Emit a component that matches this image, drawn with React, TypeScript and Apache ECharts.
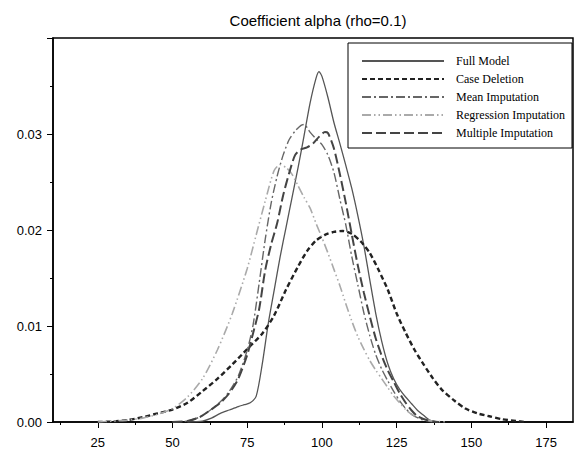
import React, { useEffect, useRef } from "react";
import * as echarts from "echarts";

const titleText = "Coefficient alpha (rho=0.1)";
const seriesNames = ["Full Model", "Case Deletion", "Mean Imputation", "Regression Imputation", "Multiple Imputation"];
const xMajorTicks = [25, 50, 75, 100, 125, 150, 175];
const xMinorTicks = [12.5, 37.5, 62.5, 87.5, 112.5, 137.5, 162.5];

const fullX = [55, 60, 63, 66, 69, 72, 74, 76, 78, 80, 82, 84, 86, 88, 90, 92, 94, 96, 98, 99, 100, 102, 104, 106, 108, 110, 112, 114, 116, 118, 120, 122, 124, 126, 128, 130, 132, 134, 136, 138];
const fullY = [0, 0.0001, 0.0004, 0.0009, 0.00125, 0.0016, 0.0018, 0.002, 0.0027, 0.006, 0.0102, 0.0137, 0.0172, 0.0203, 0.0234, 0.0265, 0.0298, 0.0332, 0.0358, 0.0365, 0.036, 0.0338, 0.0312, 0.029, 0.0267, 0.0243, 0.0215, 0.0184, 0.0148, 0.0113, 0.0084, 0.0061, 0.0045, 0.0034, 0.0026, 0.0019, 0.0012, 0.0007, 0.0002, 0];

const caseX = [25, 30, 35, 40, 45, 50, 55, 60, 65, 70, 75, 80, 84, 88, 92, 95, 98, 101, 104, 107, 110, 113, 116, 119, 122, 125, 128, 131, 134, 137, 140, 144, 148, 152, 156, 160, 165, 168];
const caseY = [0, 0.00005, 0.0002, 0.0005, 0.0009, 0.0013, 0.002, 0.0032, 0.0045, 0.006, 0.0076, 0.0092, 0.0111, 0.0138, 0.0162, 0.0178, 0.0189, 0.0195, 0.0198, 0.0199, 0.0196, 0.0188, 0.0176, 0.0158, 0.0138, 0.0113, 0.0093, 0.0075, 0.006, 0.0046, 0.0034, 0.0023, 0.0014, 0.0009, 0.0006, 0.0003, 0.0001, 0];

const meanX = [50, 55, 59, 62, 66, 69, 72, 75, 77, 79, 81, 83, 85, 87, 89, 91, 93, 94, 96, 98, 100, 102, 104, 106, 108, 110, 112, 114, 116, 118, 120, 122, 124, 126, 128, 130, 133, 137];
const meanY = [0, 0.0001, 0.0005, 0.0011, 0.0021, 0.0032, 0.0048, 0.0075, 0.0102, 0.0145, 0.019, 0.0228, 0.0256, 0.0278, 0.0294, 0.0303, 0.0309, 0.031, 0.0302, 0.0295, 0.0289, 0.0278, 0.026, 0.0232, 0.0205, 0.0172, 0.0143, 0.0114, 0.009, 0.007, 0.0055, 0.0043, 0.0032, 0.0022, 0.0014, 0.0008, 0.0003, 0];

const regX = [25, 30, 35, 40, 45, 50, 55, 60, 65, 70, 75, 78, 81, 84, 86, 88, 90, 92, 94, 96, 98, 100, 102, 104, 106, 108, 110, 112, 114, 116, 118, 120, 122, 124, 126, 128, 130, 133, 137, 142];
const regY = [0, 0.0001, 0.0002, 0.0004, 0.0008, 0.0014, 0.0026, 0.0045, 0.0075, 0.0113, 0.016, 0.0195, 0.023, 0.0262, 0.0268, 0.0265, 0.0258, 0.0246, 0.0234, 0.0223, 0.0207, 0.0192, 0.0176, 0.0159, 0.0142, 0.0123, 0.0105, 0.0089, 0.0076, 0.0064, 0.0054, 0.0045, 0.0036, 0.0027, 0.002, 0.0013, 0.0008, 0.0004, 0.0001, 0];

const multiX = [50, 55, 59, 62, 66, 69, 72, 75, 77, 79, 81, 83, 85, 87, 89, 91, 93, 95, 97, 99, 101, 102, 104, 106, 108, 110, 112, 114, 116, 118, 120, 122, 124, 126, 128, 130, 132, 135, 139];
const multiY = [0, 0.0001, 0.0005, 0.0011, 0.002, 0.003, 0.0045, 0.007, 0.0093, 0.0118, 0.0158, 0.0185, 0.0207, 0.0236, 0.0259, 0.0278, 0.0284, 0.0286, 0.029, 0.0297, 0.0302, 0.0301, 0.0285, 0.0258, 0.0228, 0.0195, 0.0163, 0.0135, 0.011, 0.0087, 0.0069, 0.0054, 0.0042, 0.003, 0.002, 0.0012, 0.0006, 0.0002, 0];

const pairs = (xs: number[], ys: number[]) => xs.map((x, i) => [x, ys[i]]);

export default function App() {
  const ref = useRef<HTMLDivElement>(null);
  useEffect(() => {
    if (!ref.current) return;
    const chart = echarts.init(ref.current, null, { renderer: "svg" });
    const styles = [
      { color: "#555", width: 1.3, type: "solid" as any, data: pairs(fullX, fullY) },
      { color: "#222", width: 2.4, type: [5, 3], data: pairs(caseX, caseY) },
      { color: "#666", width: 1.4, type: [9, 3, 2, 3], data: pairs(meanX, meanY) },
      { color: "#aaa", width: 1.6, type: [9, 3, 1.5, 3, 1.5, 3], data: pairs(regX, regY) },
      { color: "#444", width: 2, type: [10, 4], data: pairs(multiX, multiY) },
    ];
    chart.setOption({
      animation: false,
      backgroundColor: "#fff",
      title: {
        text: titleText,
        left: 313,
        textAlign: "center",
        top: 8,
        textStyle: { fontFamily: "Liberation Sans", fontSize: 15, fontWeight: "normal", color: "#000" },
      },
      legend: {
        orient: "vertical",
        left: 348,
        top: 43,
        data: seriesNames,
        itemWidth: 82,
        itemHeight: 12,
        itemGap: 6,
        padding: [12, 7, 9, 13],
        borderColor: "#000",
        borderWidth: 1,
        backgroundColor: "#fff",
        itemStyle: { opacity: 0 },
        textStyle: { fontFamily: "Liberation Serif", fontSize: 12, color: "#000", padding: [0, 0, 0, 7] },
      },
      grid: {
        left: 53,
        right: 15,
        top: 38,
        bottom: 35,
        show: true,
        borderColor: "#000",
        borderWidth: 1.5,
        containLabel: false,
      },
      xAxis: [
        {
          type: "value",
          min: 10,
          max: 184,
          axisLine: { show: true, lineStyle: { color: "#000", width: 1.5 } },
          axisTick: { show: true, length: 6, lineStyle: { color: "#000" }, customValues: xMajorTicks },
          axisLabel: { customValues: xMajorTicks, margin: 14, fontFamily: "Liberation Sans", fontSize: 13, color: "#000" },
          splitLine: { show: false },
        },
        {
          type: "value",
          min: 10,
          max: 184,
          position: "bottom",
          axisLine: { show: false },
          axisTick: { show: true, length: 3, lineStyle: { color: "#000" }, customValues: xMinorTicks },
          axisLabel: { show: false },
          splitLine: { show: false },
        },
      ],
      yAxis: {
        type: "value",
        min: 0,
        max: 0.04,
        interval: 0.01,
        axisLine: { show: true, lineStyle: { color: "#000", width: 1.5 } },
        axisTick: { show: true, length: 6, lineStyle: { color: "#000" } },
        minorTick: { show: true, splitNumber: 2, length: 3, lineStyle: { color: "#000" } },
        axisLabel: {
          showMaxLabel: false,
          margin: 11,
          fontFamily: "Liberation Sans",
          fontSize: 13,
          color: "#000",
          formatter: (v: number) => v.toFixed(2),
        },
        splitLine: { show: false },
      },
      series: styles.map((s, i) => ({
        name: seriesNames[i],
        type: "line",
        xAxisIndex: 0,
        data: s.data,
        symbol: "none",
        smooth: 0.25,
        lineStyle: { color: s.color, width: s.width, type: s.type },
        itemStyle: { color: s.color },
      })),
    });
    return () => chart.dispose();
  }, []);
  return <div ref={ref} style={{ width: 588, height: 457, position: "absolute", left: 0, top: 0 }} />;
}
